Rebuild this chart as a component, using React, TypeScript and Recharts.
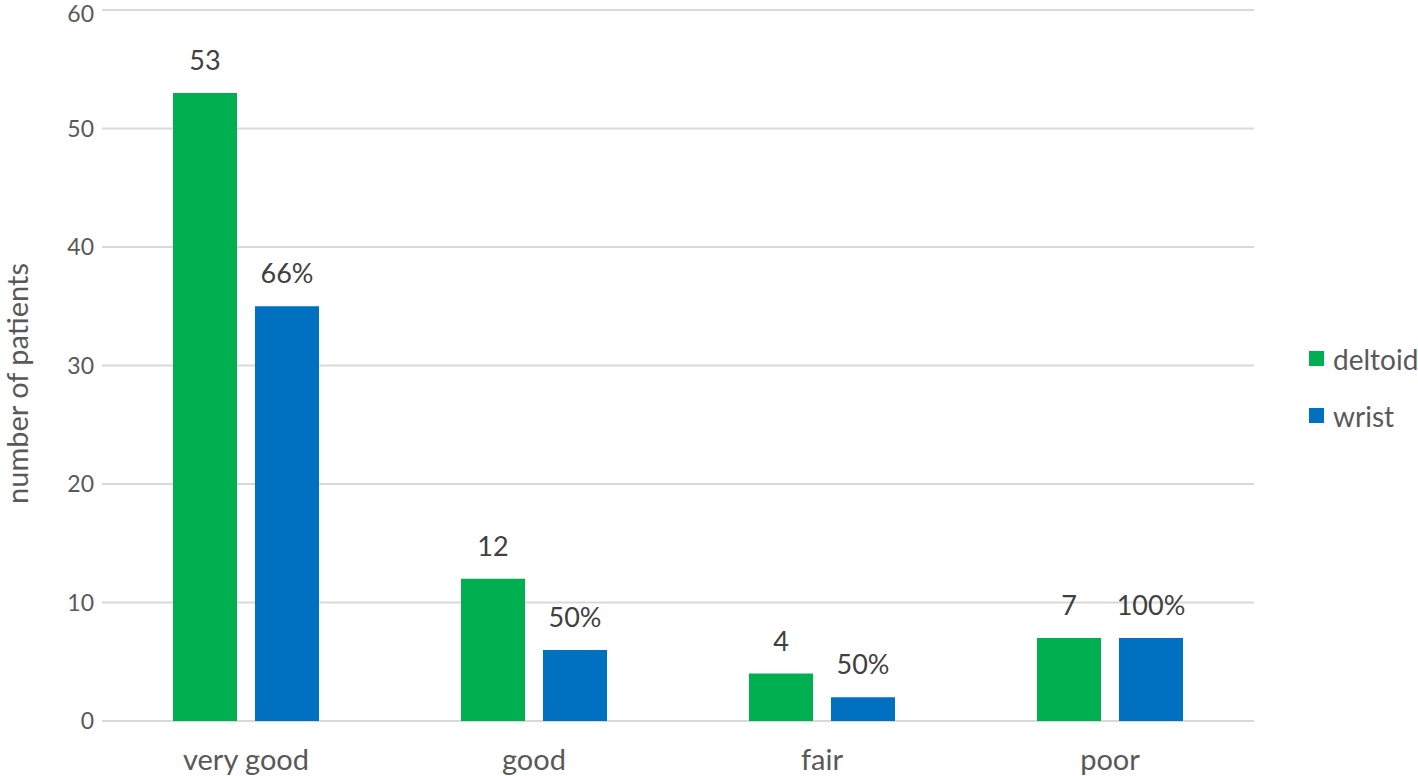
import React from "react";
import { BarChart, Bar, XAxis, YAxis, CartesianGrid, LabelList } from "recharts";

const categories = ["very good", "good", "fair", "poor"];
const deltoidValues = [53, 12, 4, 7];
const wristValues = [35, 6, 2, 7];
const wristLabels = ["66%", "50%", "50%", "100%"];
const yTicks = [0, 10, 20, 30, 40, 50, 60];
const seriesNames = ["deltoid", "wrist"];
const seriesColors = ["#00B050", "#0070C0"];

const data = categories.map((c, i) => ({
  name: c,
  deltoid: deltoidValues[i],
  wrist: wristValues[i],
  wristLabel: wristLabels[i],
}));

const FONT = "Lato, 'Open Sans', sans-serif";

const YLabel = (props: any) => {
  const vb = props.viewBox || {};
  const cx = 16;
  const cy = (vb.y || 0) + (vb.height || 0) / 2 + 18;
  return (
    <text
      x={cx}
      y={cy}
      transform={`rotate(-90 ${cx} ${cy})`}
      textAnchor="middle"
      dominantBaseline="central"
      style={{ fontSize: 29, fill: "#595959", fontFamily: FONT }}
    >
      number of patients
    </text>
  );
};

export default function App() {
  return (
    <div style={{ position: "absolute", left: 0, top: 0, width: 1418, height: 776, background: "#fff" }}>
      <BarChart
        width={1418}
        height={776}
        data={data}
        margin={{ top: 10, right: 164, bottom: 0, left: 2 }}
        barSize={64}
        barGap={18}
      >
        <CartesianGrid vertical={false} stroke="#d9d9d9" strokeWidth={2} />
        <XAxis
          dataKey="name"
          axisLine={false}
          tickLine={false}
          height={55}
          tickMargin={22}
          tick={{ fontSize: 29, fill: "#595959", fontFamily: FONT }}
        />
        <YAxis
          domain={[0, 60]}
          ticks={yTicks}
          axisLine={false}
          tickLine={false}
          width={100}
          tickMargin={2}
          tick={{ fontSize: 23, fill: "#595959", fontFamily: FONT }}
          label={<YLabel />}
        />
        <Bar dataKey="deltoid" name="deltoid" fill={seriesColors[0]} isAnimationActive={false}>
          <LabelList
            dataKey="deltoid"
            position="top"
            offset={23}
            style={{ fontSize: 27, fill: "#404040", fontFamily: FONT }}
          />
        </Bar>
        <Bar dataKey="wrist" name="wrist" fill={seriesColors[1]} isAnimationActive={false}>
          <LabelList
            dataKey="wristLabel"
            position="top"
            offset={23}
            style={{ fontSize: 27, fill: "#404040", fontFamily: FONT }}
          />
        </Bar>
      </BarChart>
      <div style={{ position: "absolute", left: 1309, top: 330, fontFamily: FONT }}>
        {seriesNames.map((n, i) => (
          <div key={n} style={{ display: "flex", alignItems: "center", height: 57 }}>
            <span style={{ display: "inline-block", width: 15, height: 15, background: seriesColors[i], marginRight: 9 }} />
            <span style={{ fontSize: 28, color: "#595959", whiteSpace: "nowrap" }}>{n}</span>
          </div>
        ))}
      </div>
    </div>
  );
}
